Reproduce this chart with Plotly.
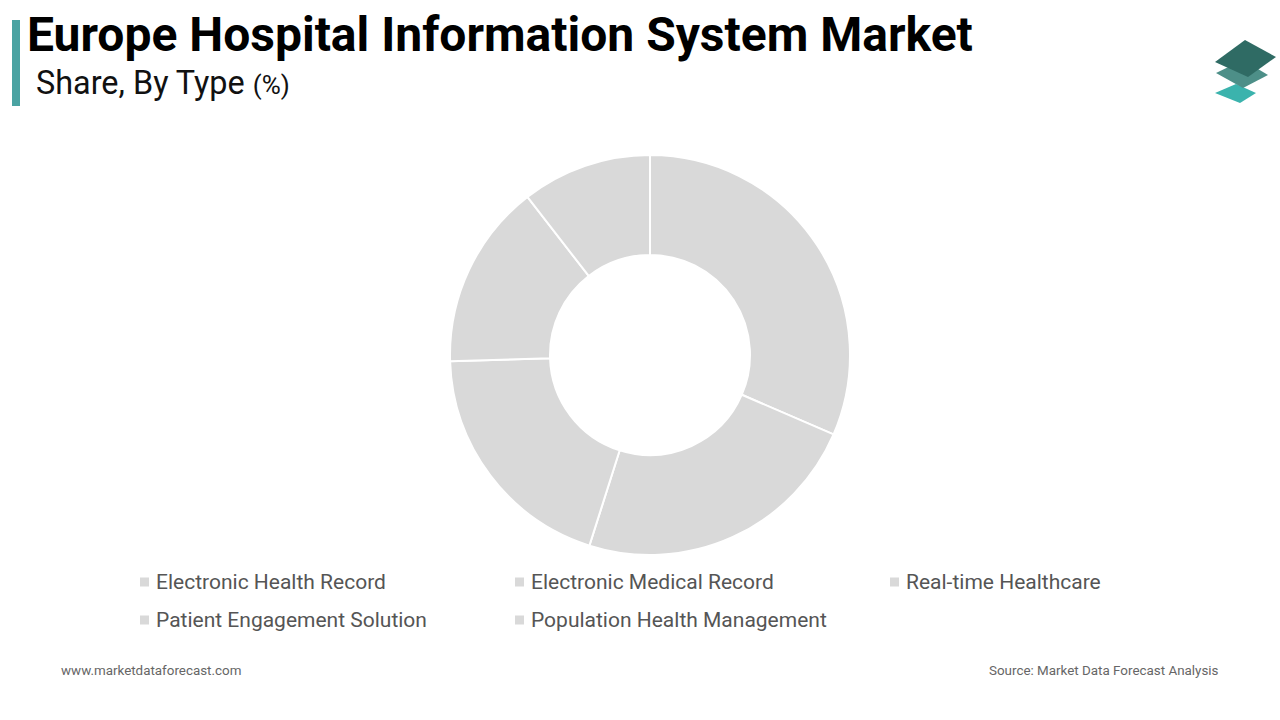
import plotly.graph_objects as go

categories = ["Electronic Health Record", "Electronic Medical Record", "Real-time Healthcare",
              "Patient Engagement Solution", "Population Health Management"]
shares = [31.5, 23.4, 19.6, 15.0, 10.5]
slice_colors = ["#d9d9d9"] * 5

W, H = 1280, 720

fig = go.Figure()
fig.add_trace(go.Pie(
    labels=categories, values=shares, hole=0.5, sort=False, direction="clockwise", rotation=0,
    marker=dict(colors=slice_colors, line=dict(color="white", width=2)),
    textinfo="none", hoverinfo="label+percent", showlegend=False,
    domain=dict(x=[450 / W, 850 / W], y=[1 - 555 / H, 1 - 155 / H]),
))

fig.update_xaxes(range=[0, W], visible=False, fixedrange=True)
fig.update_yaxes(range=[H, 0], visible=False, fixedrange=True)

shapes = []
annotations = []

# Title accent bar
shapes.append(dict(type="rect", xref="x", yref="y", x0=12, x1=20, y0=20, y1=106,
                   fillcolor="#4aa3a2", line=dict(width=0)))

annotations.append(dict(text="<b>Europe Hospital Information System Market</b>", x=25, y=34,
                        xref="x", yref="y", xanchor="left", yanchor="middle", showarrow=False,
                        font=dict(family="Roboto", size=48, color="#000000")))
annotations.append(dict(text="Share, By Type <span style='font-size:26px'>(%)</span>", x=34, y=83,
                        xref="x", yref="y", xanchor="left", yanchor="middle", showarrow=False,
                        font=dict(family="Roboto", size=32.4, color="#111111")))


# Logo: three stacked tiles
def poly(pts, color):
    path = "M " + " L ".join(f"{x} {y}" for x, y in pts) + " Z"
    return dict(type="path", xref="x", yref="y", path=path, fillcolor=color, line=dict(width=0), layer="above")


shapes.append(poly([(1215, 93), (1236, 84), (1256, 93), (1240, 103)], "#3bb3ad"))
shapes.append(poly([(1216, 73), (1243, 60), (1268, 75), (1243, 88)], "#4d8f88"))
shapes.append(poly([(1215, 62), (1245, 40), (1276, 57), (1248, 77)], "#2f6b64"))

# Manual legend
leg_x = [140, 515, 890, 140, 515]
leg_y = [582, 582, 582, 620, 620]
for name, c, lx, ly in zip(categories, slice_colors, leg_x, leg_y):
    shapes.append(dict(type="rect", xref="x", yref="y", x0=lx, x1=lx + 9, y0=ly - 4.5,
                       y1=ly + 4.5, fillcolor=c, line=dict(width=0)))
    annotations.append(dict(text=name, x=lx + 14, y=ly, xref="x", yref="y", xanchor="left",
                            yanchor="middle", showarrow=False,
                            font=dict(family="Roboto", size=21, color="#555555")))

annotations.append(dict(text="www.marketdataforecast.com", x=59, y=670, xref="x", yref="y",
                        xanchor="left", yanchor="middle", showarrow=False,
                        font=dict(family="Roboto", size=13.4, color="#666666")))
annotations.append(dict(text="Source: Market Data Forecast Analysis", x=1221, y=670, xref="x",
                        yref="y", xanchor="right", yanchor="middle", showarrow=False,
                        font=dict(family="Roboto", size=13.4, color="#666666")))

fig.update_layout(width=W, height=H, margin=dict(l=0, r=0, t=0, b=0), paper_bgcolor="white",
                  plot_bgcolor="white", shapes=shapes, annotations=annotations, showlegend=False)

fig.write_html("out.html", config={"displayModeBar": False},
               post_script="document.body.style.margin='0';")
